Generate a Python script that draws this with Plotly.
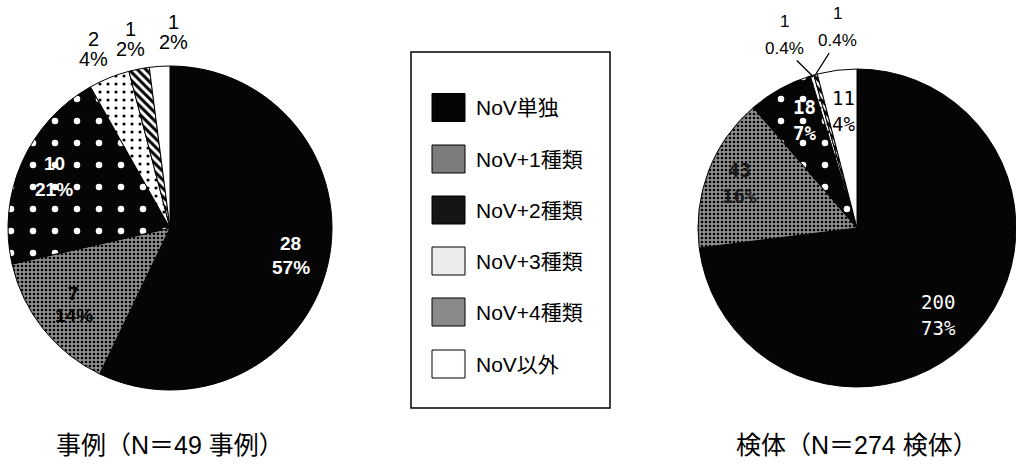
import math
import plotly.graph_objects as go

# Categories shared by both pies (legend order)
categories = ["NoV単独", "NoV+1種類", "NoV+2種類", "NoV+3種類", "NoV+4種類", "NoV以外"]

# Counts per category
case_counts = [28, 7, 10, 2, 1, 1]          # 事例 (N=49)
specimen_counts = [200, 43, 18, 1, 1, 11]  # 検体 (N=274)

# Percentage labels as printed on each slice
case_pct_labels = ["57%", "14%", "21%", "4%", "2%", "2%"]
specimen_pct_labels = ["73%", "16%", "7%", "0.4%", "0.4%", "4%"]

case_title = "事例（N＝49 事例）"
specimen_title = "検体（N＝274 検体）"

W, H = 1016, 467
LAT = "Liberation Sans, Arial, Noto Sans CJK JP, sans-serif"
JP = "Liberation Sans, Noto Sans CJK JP, sans-serif"
MONO = "DejaVu Sans Mono, Noto Sans CJK JP, monospace"

# Hatch/fill styles per category
pattern = dict(
    shape=["", ".", ".", ".", "\\", ""],
    fgcolor=["#000000", "#000000", "#ffffff", "#000000", "#000000", "#ffffff"],
    bgcolor=["#050505", "#8e8e8e", "#050505", "#ffffff", "#ffffff", "#ffffff"],
    size=[8, 4, 22, 8, 6, 8],
    solidity=[0.3, 0.35, 0.07, 0.12, 0.5, 0.3],
    fillmode="replace",
)
fill_colors = ["#050505", "#808080", "#050505", "#ffffff", "#ffffff", "#ffffff"]

# Pie boxes in pixels: (x0, x1, y0, y1)
case_box = (8, 332, 66, 390)
specimen_box = (698, 1016, 66, 390)


def domain_of(box):
    x0, x1, y0, y1 = box
    return dict(x=[x0 / W, min(x1 / W, 1.0)], y=[1 - y1 / H, 1 - y0 / H])


def geometry(box):
    x0, x1, y0, y1 = box
    x1 = min(x1, W)
    return (x0 + x1) / 2, (y0 + y1) / 2, min(x1 - x0, y1 - y0) / 2


def mid_angles(values):
    total = sum(values)
    out, acc = [], 0
    for v in values:
        out.append(360 * (acc + v / 2) / total)
        acc += v
    return out


def polar(cx, cy, r, deg):
    a = math.radians(deg)
    return cx + r * math.sin(a), cy - r * math.cos(a)


def paper(px, py):
    return px / W, 1 - py / H


fig = go.Figure()
for values, box in ((case_counts, case_box), (specimen_counts, specimen_box)):
    fig.add_trace(go.Pie(
        labels=categories,
        values=values,
        sort=False,
        direction="clockwise",
        rotation=0,
        domain=domain_of(box),
        marker=dict(colors=fill_colors, pattern=pattern,
                    line=dict(color="#000000", width=1)),
        textinfo="none",
        hoverinfo="label+value+percent",
        showlegend=False,
    ))

annotations = []


def add_label(values, pct_labels, box, idx, frac, dang, family, size, color,
              gap, bold=False, arrow=False):
    cx, cy, r = geometry(box)
    mid = mid_angles(values)[idx]
    tx, ty = polar(cx, cy, r * frac, mid + dang)
    top = str(values[idx])
    bottom = pct_labels[idx]
    if bold:
        top, bottom = f"<b>{top}</b>", f"<b>{bottom}</b>"
    f = dict(family=family, size=size, color=color)
    x, y = paper(tx, ty - gap / 2)
    annotations.append(dict(text=top, xref="paper", yref="paper", x=x, y=y,
                            xanchor="center", yanchor="middle", showarrow=False, font=f))
    if arrow:
        ex, ey = polar(cx, cy, r, mid)
        x, y = paper(ex, ey)
        annotations.append(dict(text=bottom, xref="paper", yref="paper", x=x, y=y,
                                ax=tx - ex, ay=ty + gap / 2 - ey,
                                xanchor="center", yanchor="middle", showarrow=True,
                                arrowhead=0, arrowwidth=1.3, arrowcolor="#000000",
                                standoff=0, startstandoff=2, font=f))
    else:
        x, y = paper(tx, ty + gap / 2)
        annotations.append(dict(text=bottom, xref="paper", yref="paper", x=x, y=y,
                                xanchor="center", yanchor="middle", showarrow=False, font=f))


# 事例 pie labels
add_label(case_counts, case_pct_labels, case_box, 0, 0.765, 0, LAT, 19, "#ffffff", 24, bold=True)
add_label(case_counts, case_pct_labels, case_box, 1, 0.76, 0, LAT, 19, "#000000", 22, bold=True)
add_label(case_counts, case_pct_labels, case_box, 2, 0.78, 0, LAT, 19, "#ffffff", 26, bold=True)
add_label(case_counts, case_pct_labels, case_box, 3, 1.2, -1, LAT, 20, "#000000", 20)
add_label(case_counts, case_pct_labels, case_box, 4, 1.19, -0.7, LAT, 20, "#000000", 20)
add_label(case_counts, case_pct_labels, case_box, 5, 1.21, 4.6, LAT, 20, "#000000", 20)

# 検体 pie labels
add_label(specimen_counts, specimen_pct_labels, specimen_box, 0, 0.75, 5.6, MONO, 19, "#ffffff", 26)
add_label(specimen_counts, specimen_pct_labels, specimen_box, 1, 0.79, 0, MONO, 19, "#1a1a1a", 26, bold=True)
add_label(specimen_counts, specimen_pct_labels, specimen_box, 2, 0.755, 2.8, MONO, 19, "#ffffff", 26, bold=True)
add_label(specimen_counts, specimen_pct_labels, specimen_box, 3, 1.30, -4.2, LAT, 17, "#000000", 27, arrow=True)
add_label(specimen_counts, specimen_pct_labels, specimen_box, 4, 1.27, 9.5, LAT, 17, "#000000", 27, arrow=True)
add_label(specimen_counts, specimen_pct_labels, specimen_box, 5, 0.74, 0.4, MONO, 19, "#000000", 26)

# Framed legend drawn as shapes + text
shapes = [dict(type="rect", xref="paper", yref="paper",
               x0=411 / W, x1=610 / W, y0=1 - 408 / H, y1=1 - 52 / H,
               line=dict(color="#000000", width=1.5), fillcolor="rgba(0,0,0,0)")]
swatch_fill = ["#050505", "#7c7c7c", "#151515", "#ececec", "#8a8a8a", "#ffffff"]
row_y = [107.5, 159, 210, 261, 312, 364]
for name, fc, yc in zip(categories, swatch_fill, row_y):
    shapes.append(dict(type="rect", xref="paper", yref="paper",
                       x0=432 / W, x1=465 / W, y0=1 - (yc + 14) / H, y1=1 - (yc - 14) / H,
                       line=dict(color="#000000", width=1), fillcolor=fc))
    annotations.append(dict(text=name, xref="paper", yref="paper",
                            x=474 / W, y=1 - yc / H, xanchor="left", yanchor="middle",
                            showarrow=False, font=dict(family=JP, size=21, color="#000000")))

annotations.append(dict(text=case_title, xref="paper", yref="paper",
                        x=170 / W, y=1 - 445 / H, xanchor="center", yanchor="middle",
                        showarrow=False, font=dict(family=JP, size=25, color="#000000")))
annotations.append(dict(text=specimen_title, xref="paper", yref="paper",
                        x=857 / W, y=1 - 445 / H, xanchor="center", yanchor="middle",
                        showarrow=False, font=dict(family=JP, size=25, color="#000000")))

fig.update_layout(
    width=W, height=H,
    margin=dict(l=0, r=0, t=0, b=0, autoexpand=False),
    paper_bgcolor="#ffffff",
    plot_bgcolor="#ffffff",
    showlegend=False,
    shapes=shapes,
    annotations=annotations,
)

fig.write_html("out.html")
